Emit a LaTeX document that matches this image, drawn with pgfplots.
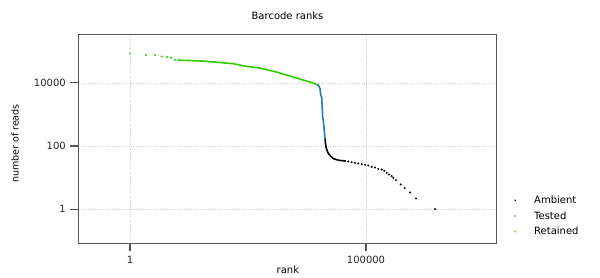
\documentclass[border=0pt]{standalone}
\usepackage{pgfplots}
\pgfplotsset{compat=1.18}
\usepackage{fontspec}
\setmainfont{DejaVu Sans}
\definecolor{retgreen}{RGB}{51,204,0}
\definecolor{testblue}{RGB}{28,125,200}
\definecolor{framegray}{RGB}{85,85,85}
\begin{document}
\fontsize{10}{12}\selectfont
\begin{tikzpicture}
\path[use as bounding box] (0,0) rectangle (600pt,278pt);
\begin{axis}[
  at={(78.3pt,34.7pt)}, anchor=south west,
  scale only axis, width=418.4pt, height=208.6pt,
  xmode=log, ymode=log,
  xmin=0.0803, xmax=5.87e7,
  ymin=0.0822, ymax=3.39e5,
  xtick={1,100000}, xticklabels={1,100000},
  ytick={1,100,10000}, yticklabels={1,100,10000},
  minor tick num=0, minor xtick={}, minor ytick={},
  xmajorgrids, ymajorgrids,
  major grid style={dotted, gray!40, line width=0.7pt},
  axis line style={framegray, line width=1.1pt},
  tick style={framegray, line width=1.1pt},
  tick align=outside, major tick length=8pt,
  xtick pos=bottom, ytick pos=left,
  tick label style={font=\fontsize{10}{12}\selectfont, black!85},
  xticklabel style={yshift=-1pt},
  yticklabel style={xshift=-1pt},
  title={Barcode ranks},
  title style={at={(axis description cs:0.5,1.0445)}, anchor=base, font=\fontsize{10}{12}\selectfont},
  xlabel={rank},
  xlabel style={at={(axis description cs:0.501,-0.128)}, anchor=center, font=\fontsize{10}{12}\selectfont},
  ylabel={number of reads},
  ylabel style={at={(axis description cs:-0.151,0.478)}, anchor=center, font=\fontsize{9.5}{12}\selectfont},
  legend style={draw=none, fill=none, at={(axis description cs:1.039,0.131)}, anchor=west,
    font=\fontsize{10}{12}\selectfont, row sep=2.6pt, cells={anchor=west}, inner sep=0pt},
  legend cell align=left,
  legend image code/.code={\path[draw=none,fill=none] (-2pt,-2pt) rectangle (17pt,2pt); \fill[#1,draw=none] (0pt,0pt) circle (0.9pt);},
  clip=false,
]
% dense parts drawn as lines
\addplot[black, line width=1.6pt, forget plot] coordinates {
(13530,173) (13800,126) (14220,93) (14800,75.9) (15900,58) (17800,47.9) (20300,40) (24000,36.7) (28100,34.8) (35900,33.7)
};
\addplot[testblue, line width=1.6pt, forget plot] coordinates {
(9770,8400) (10600,6600) (10970,4050) (11500,3580) (12100,834) (12450,655) (13530,173)
};
\addplot[retgreen, line width=1.6pt, forget plot] coordinates {
(10.5,53100) (11.5,52500) (15.8,51900) (35.7,49300) (154,40800) (297,33500) (568,29600) (1282,22100) (2884,15400) (5546,11500) (8300,9500) (9770,8400)
};
% discrete points
\addplot[black, only marks, mark=*, mark size=0.8pt] coordinates {
(35900,33.7) (42200,32.3) (49800,30.7) (58500,29.2) (68700,27.9) (81100,26.5) (95300,25.2)
(112000,24.2) (132000,21.8) (155000,20.9) (182000,18.8) (215000,18.0) (244000,16.3)
(275000,14.1) (307000,12.5) (350000,11.1) (378000,9.8) (432000,8.3) (543000,6.05)
(661000,4.62) (855000,3.37) (1146000,2.18) (2897000,1)
};
\addlegendentry{Ambient}
\addplot[testblue, only marks, mark=*, mark size=0.8pt] coordinates {(9770,8400)};
\addlegendentry{Tested}
\addplot[retgreen, only marks, mark=*, mark size=0.8pt] coordinates {
(1,85000) (2.2,76400) (3.4,76400) (4.7,69500) (6.1,66000) (7.4,63100) (9.0,54600) (10.5,53100)
};
\addlegendentry{Retained}
\end{axis}
\end{tikzpicture}
\end{document}
